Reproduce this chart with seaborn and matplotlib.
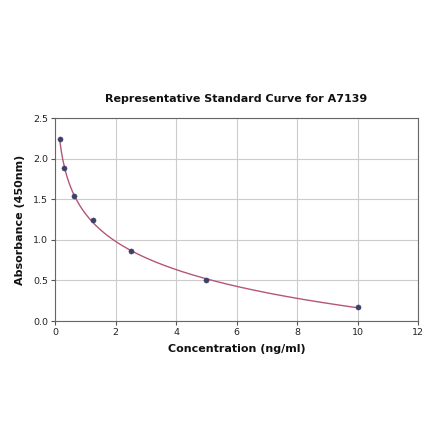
import numpy as np
import pandas as pd
import matplotlib
matplotlib.use("Agg")
import matplotlib.pyplot as plt
import seaborn as sns

# standard points
conc = [0.156, 0.312, 0.625, 1.25, 2.5, 5.0, 10.0]
absorb = [2.24, 1.89, 1.54, 1.25, 0.86, 0.51, 0.17]

sns.set_style("whitegrid")
plt.rcParams['font.family'] = ['DejaVu Sans']
plt.rcParams['text.color'] = '#111111'
plt.rcParams['axes.labelcolor'] = '#111111'

df = pd.DataFrame({'conc': conc, 'abs': absorb})

# smooth fitted curve (cubic in log concentration)
coef = np.polyfit(np.log(df['conc']), df['abs'], 3)
xs = np.linspace(min(conc), max(conc), 300)
fit = pd.DataFrame({'conc': xs, 'abs': np.polyval(coef, np.log(xs))})

fig = plt.figure(figsize=(4.4, 4.41), dpi=100)
ax = fig.add_axes([0.125, 0.272, 0.825, 0.46])

sns.lineplot(data=fit, x='conc', y='abs', ax=ax, color='#b5557a', linewidth=1)
sns.scatterplot(data=df, x='conc', y='abs', ax=ax, color='#3d4068', s=14,
                edgecolor='#3d4068', zorder=3)

ax.set_xlim(0, 12)
ax.set_ylim(0, 2.5)
ax.set_xticks([0, 2, 4, 6, 8, 10, 12])
ax.set_yticks([0, 0.5, 1.0, 1.5, 2.0, 2.5])
ax.tick_params(labelsize=6.8, length=3, color='#555555', labelcolor='#222222',
               left=True, bottom=True, pad=2)
ax.grid(color='#cccccc', linewidth=0.8)
for s in ax.spines.values():
    s.set_color('#666666')
    s.set_linewidth(0.8)

ax.set_xlabel('Concentration (ng/ml)', fontsize=8, fontweight='bold', labelpad=5)
ax.set_ylabel('Absorbance (450nm)', fontsize=8, fontweight='bold', labelpad=6)
ax.set_title('Representative Standard Curve for A7139', fontsize=8,
             fontweight='bold', pad=12)

fig.savefig('out.png', dpi=100)
